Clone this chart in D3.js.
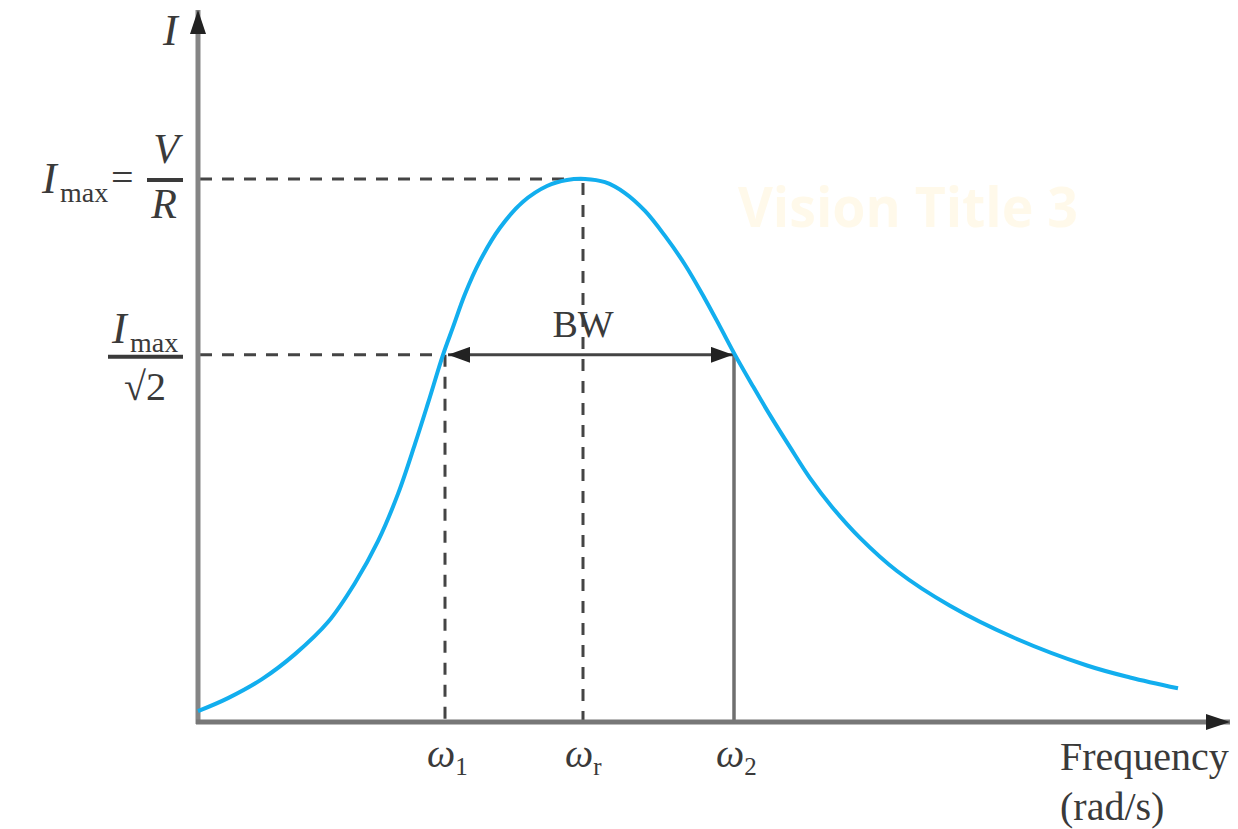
<!DOCTYPE html>
<html>
<head>
<meta charset="utf-8">
<script src="https://cdn.jsdelivr.net/npm/d3@7"></script>
<style>
  body { margin: 0; background: #fff; }
  svg { display: block; }
</style>
</head>
<body>
<div id="chart"></div>
<script>
// resonance curve: frequency (arbitrary units) vs I / Imax
var freq = [0, 30, 64, 97, 130, 157, 180, 200, 217, 230, 245, 255, 267, 282, 302, 325, 349, 369, 387,
            407, 427, 447, 467, 487, 507, 522, 537, 555, 572, 592, 612, 634, 662, 699, 752, 815, 889,
            932, 980];
var current = [0.020, 0.044, 0.079, 0.125, 0.184, 0.256, 0.333, 0.420, 0.512, 0.587, 0.676, 0.727,
               0.788, 0.849, 0.910, 0.958, 0.987, 0.998, 1.000, 0.994, 0.974, 0.941, 0.895, 0.842,
               0.779, 0.728, 0.676, 0.618, 0.565, 0.506, 0.449, 0.396, 0.339, 0.278, 0.214, 0.156,
               0.104, 0.082, 0.062];

// marked frequencies: omega 1, omega r, omega 2
var markFreq = [247, 385, 536];
var markSub = ["1", "r", "2"];

// current levels: Imax and Imax / sqrt(2)
var levels = [1, 0.676];

var width = 1238, height = 829;
var serif = "'Liberation Serif', 'DejaVu Serif', serif";
var ink = "#3a3a3a";

var svg = d3.select("#chart")
  .append("svg")
    .attr("width", width)
    .attr("height", height);

var x = d3.scaleLinear().domain([0, 1032]).range([198, 1230]);
var y = d3.scaleLinear().domain([0, 1.311]).range([722, 10]);

// arrow heads
var defs = svg.append("defs");
function arrow(id, color, len, half) {
  defs.append("marker")
    .attr("id", id)
    .attr("markerUnits", "userSpaceOnUse")
    .attr("viewBox", `0 ${-half} ${len} ${half * 2}`)
    .attr("refX", len)
    .attr("refY", 0)
    .attr("markerWidth", len)
    .attr("markerHeight", half * 2)
    .attr("orient", "auto-start-reverse")
    .append("path")
      .attr("d", `M0,${-half}L${len},0L0,${half}Z`)
      .attr("fill", color);
}
arrow("axisArrow", "#222", 24, 8);
arrow("bwArrow", "#222", 22, 8);

// watermark
svg.append("text")
  .attr("x", 738)
  .attr("y", 227)
  .attr("textLength", 340)
  .attr("lengthAdjust", "spacingAndGlyphs")
  .style("font-family", "'Open Sans', Inter, sans-serif")
  .style("font-weight", 700)
  .style("font-size", "56px")
  .style("fill", "#fff9ea")
  .text("Vision Title 3");

// dashed guide lines
svg.append("line")
  .attr("x1", x(0) + 2).attr("x2", x(markFreq[1]))
  .attr("y1", y(levels[0])).attr("y2", y(levels[0]))
  .attr("stroke", "#444").attr("stroke-width", 3)
  .attr("stroke-dasharray", "12,10");
svg.append("line")
  .attr("x1", x(0) + 2).attr("x2", x(markFreq[0]))
  .attr("y1", y(levels[1])).attr("y2", y(levels[1]))
  .attr("stroke", "#444").attr("stroke-width", 3)
  .attr("stroke-dasharray", "12,10");
svg.append("line")
  .attr("x1", x(markFreq[0])).attr("x2", x(markFreq[0]))
  .attr("y1", y(levels[1])).attr("y2", y(0))
  .attr("stroke", "#444").attr("stroke-width", 3)
  .attr("stroke-dasharray", "12,10");
svg.append("line")
  .attr("x1", x(markFreq[1])).attr("x2", x(markFreq[1]))
  .attr("y1", y(levels[0]) + 4).attr("y2", y(0))
  .attr("stroke", "#444").attr("stroke-width", 3)
  .attr("stroke-dasharray", "12,10");
// omega 2 drop line is solid
svg.append("line")
  .attr("x1", x(markFreq[2])).attr("x2", x(markFreq[2]))
  .attr("y1", y(levels[1])).attr("y2", y(0))
  .attr("stroke", "#6f6f6f").attr("stroke-width", 3.5);

// axes
svg.append("line")
  .attr("x1", x(0)).attr("x2", x(0))
  .attr("y1", y(0) + 2).attr("y2", y.range()[1])
  .attr("stroke", "#858585").attr("stroke-width", 5)
  .attr("marker-end", "url(#axisArrow)");
svg.append("line")
  .attr("x1", x(0) - 2).attr("x2", x.range()[1])
  .attr("y1", y(0)).attr("y2", y(0))
  .attr("stroke", "#777").attr("stroke-width", 5)
  .attr("marker-end", "url(#axisArrow)");

// bandwidth arrow
svg.append("line")
  .attr("x1", x(markFreq[0]) + 3).attr("x2", x(markFreq[2]) - 1)
  .attr("y1", y(levels[1])).attr("y2", y(levels[1]))
  .attr("stroke", "#444").attr("stroke-width", 3)
  .attr("marker-start", "url(#bwArrow)")
  .attr("marker-end", "url(#bwArrow)");

// resonance curve
var line = d3.line()
  .x((d, i) => x(freq[i]))
  .y(d => y(d))
  .curve(d3.curveCatmullRom.alpha(0.5));
svg.append("path")
  .datum(current)
  .attr("d", line)
  .attr("fill", "none")
  .attr("stroke", "#12aeee")
  .attr("stroke-width", 4);

// text labels
function txt(px, py, s, size, opts) {
  opts = opts || {};
  return svg.append("text")
    .attr("x", px).attr("y", py)
    .attr("text-anchor", opts.anchor || "start")
    .style("font-family", serif)
    .style("font-style", opts.italic ? "italic" : "normal")
    .style("font-size", size + "px")
    .style("fill", ink)
    .text(s);
}

txt(x(0) - 35, 45, "I", 44, {italic: true});
txt(x(markFreq[1]), 337, "BW", 38, {anchor: "middle"});
txt(1060, 770, "Frequency", 40);
txt(1060, 820, "(rad/s)", 40);

// omega tick labels
svg.selectAll("text.omega")
  .data(markFreq)
  .enter()
  .append("text")
    .attr("class", "omega")
    .attr("x", d => x(d) - 18)
    .attr("y", 767)
    .style("font-family", serif)
    .style("font-style", "italic")
    .style("font-size", "40px")
    .style("fill", ink)
    .each(function (d, i) {
      var t = d3.select(this);
      t.append("tspan").text("\u03c9");
      t.append("tspan")
        .attr("dy", 8)
        .style("font-style", "normal")
        .style("font-size", "25px")
        .text(markSub[i]);
    });

// Imax = V / R
var yPeak = y(levels[0]);
txt(42, yPeak + 14, "I", 44, {italic: true});
txt(60, yPeak + 23, "max", 28);
txt(111, yPeak + 12, "=", 40);
txt(166, yPeak - 16, "V", 42, {italic: true, anchor: "middle"});
svg.append("line")
  .attr("x1", 147).attr("x2", 183)
  .attr("y1", yPeak + 1).attr("y2", yPeak + 1)
  .attr("stroke", ink).attr("stroke-width", 4);
txt(164, yPeak + 39, "R", 42, {italic: true, anchor: "middle"});

// Imax / sqrt(2)
var yHalf = y(levels[1]);
txt(112, yHalf - 12, "I", 44, {italic: true});
txt(130, yHalf - 3, "max", 28);
svg.append("line")
  .attr("x1", 108).attr("x2", 183)
  .attr("y1", yHalf + 2).attr("y2", yHalf + 2)
  .attr("stroke", ink).attr("stroke-width", 4);
txt(145, yHalf + 45, "\u221a2", 40, {anchor: "middle"});
</script>
</body>
</html>
